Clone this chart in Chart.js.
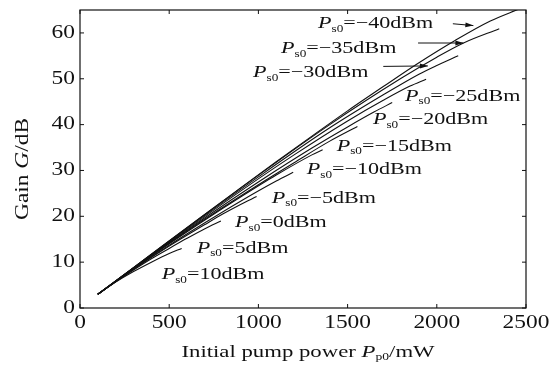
<!DOCTYPE html>
<html>
<head>
<meta charset="utf-8">
<script src="https://cdn.jsdelivr.net/npm/chart.js@4.4.1/dist/chart.umd.min.js"></script>
<style>
  html, body { margin: 0; padding: 0; background: #fff; }
  #gainChart { display: block; }
</style>
</head>
<body>
<canvas id="gainChart" width="555" height="365"></canvas>
<script>
// Signal powers of the curves (dBm)
const ps0Values = [10, 5, 0, -5, -10, -15, -20, -25, -30, -35, -40];

// Curves: initial pump power (mW) -> gain (dB)
const pump10 = [100, 200, 300, 400, 500, 570];
const gain10 = [3.0, 5.65, 7.95, 10.0, 11.9, 13.0];
const pump5 = [100, 200, 300, 400, 500, 600, 700, 790];
const gain5 = [3.0, 5.75, 8.3, 10.75, 13.0, 15.2, 17.3, 19.0];
const pump0 = [100, 300, 500, 700, 800, 900, 990];
const gain0 = [3.0, 8.45, 13.5, 18.2, 20.5, 22.6, 24.3];
const pumpM5 = [100, 300, 500, 700, 900, 1100, 1195];
const gainM5 = [3.0, 8.5, 13.7, 18.6, 23.3, 27.7, 29.6];
const pumpM10 = [100, 300, 500, 700, 900, 1100, 1300, 1360];
const gainM10 = [3.0, 8.6, 14.0, 19.2, 24.2, 29.0, 33.4, 34.5];
const pumpM15 = [100, 400, 700, 1000, 1200, 1400, 1555];
const gainM15 = [3.0, 11.4, 19.4, 26.9, 31.7, 36.4, 39.6];
const pumpM20 = [100, 400, 700, 1000, 1300, 1500, 1650, 1750];
const gainM20 = [3.0, 11.5, 19.7, 27.5, 34.9, 39.5, 42.8, 44.8];
const pumpM25 = [100, 500, 900, 1200, 1500, 1700, 1850, 1940];
const gainM25 = [3.0, 14.4, 25.5, 33.4, 40.8, 45.3, 48.4, 49.9];
const pumpM30 = [100, 600, 1000, 1400, 1700, 1900, 2000, 2120];
const gainM30 = [3.0, 17.4, 28.6, 39.3, 46.5, 51.0, 52.9, 55.0];
const pumpM35 = [100, 800, 1400, 1800, 2000, 2150, 2350];
const gainM35 = [3.0, 23.3, 40.0, 50.1, 54.7, 57.8, 60.9];
const pumpM40 = [100, 300, 500, 700, 900, 1100, 1300, 1500, 1700, 1900, 2100, 2300, 2460];
const gainM40 = [3.0, 8.8, 14.6, 20.4, 26.2, 31.9, 37.5, 43.0, 48.3, 53.5, 58.3, 62.6, 65.2];

// Axis ticks
const xTickValues = [0, 500, 1000, 1500, 2000, 2500];
const yTickValues = [0, 10, 20, 30, 40, 50, 60];

// Curve label anchors (left edge of "P", data units)
const labelX = [458, 654, 869, 1075, 1271, 1439, 1642, 1822, 970, 1127, 1334];
const labelY = [7.2, 13.0, 18.6, 23.9, 30.1, 35.2, 41.0, 46.1, 51.3, 56.5, 62.0];

// Arrows from the top three labels to their curves
const arrowFromX = [1700, 1895, 2090];
const arrowFromY = [52.7, 57.8, 62.0];
const arrowToX = [1950, 2149, 2205];
const arrowToY = [52.8, 57.8, 61.6];

const pumpSets = [pump10, pump5, pump0, pumpM5, pumpM10, pumpM15, pumpM20, pumpM25, pumpM30, pumpM35, pumpM40];
const gainSets = [gain10, gain5, gain0, gainM5, gainM10, gainM15, gainM20, gainM25, gainM30, gainM35, gainM40];

const INK = '#111';
const SERIF = '"Liberation Serif", "Times New Roman", serif';
const STRETCH = 1.3;

// draw text runs (italic / subscript) stretched horizontally like the scan
function drawRuns(ctx, runs, x, y, size, align) {
    const parts = runs.map(r => {
        const fs = r.sub ? size * 0.6 : size;
        const font = (r.italic ? 'italic ' : '') + fs + 'px ' + SERIF;
        ctx.font = font;
        return { text: r.text, font: font, w: ctx.measureText(r.text).width, dy: r.sub ? size * 0.3 : 0 };
    });
    const total = parts.reduce((s, p) => s + p.w, 0);
    let start = 0;
    if (align === 'center') start = -total / 2;
    if (align === 'right') start = -total;
    ctx.save();
    ctx.translate(x, y);
    ctx.scale(STRETCH, 1);
    ctx.fillStyle = INK;
    ctx.textBaseline = 'middle';
    ctx.textAlign = 'left';
    let cx = start;
    parts.forEach(p => {
        ctx.font = p.font;
        ctx.fillText(p.text, cx, p.dy);
        cx += p.w;
    });
    ctx.restore();
}

function labelRuns(v) {
    const val = v < 0 ? '\u2212' + Math.abs(v) : String(v);
    return [
        { text: 'P', italic: true },
        { text: 's0', sub: true },
        { text: '=' + val + 'dBm' }
    ];
}

const framePlugin = {
    id: 'frame',
    afterDatasetsDraw(chart) {
        const ctx = chart.ctx;
        const area = chart.chartArea;
        const xs = chart.scales.x;
        const ys = chart.scales.y;

        // box
        ctx.save();
        ctx.strokeStyle = INK;
        ctx.lineWidth = 1.2;
        ctx.strokeRect(area.left, area.top, area.right - area.left, area.bottom - area.top);

        // inward ticks on all sides
        ctx.lineWidth = 1;
        ctx.beginPath();
        xs.ticks.forEach(t => {
            const px = xs.getPixelForValue(t.value);
            ctx.moveTo(px, area.bottom); ctx.lineTo(px, area.bottom - 4);
            ctx.moveTo(px, area.top); ctx.lineTo(px, area.top + 4);
        });
        ys.ticks.forEach(t => {
            const py = ys.getPixelForValue(t.value);
            ctx.moveTo(area.left, py); ctx.lineTo(area.left + 4, py);
            ctx.moveTo(area.right, py); ctx.lineTo(area.right - 4, py);
        });
        ctx.stroke();
        ctx.restore();

        // tick labels
        xs.ticks.forEach(t => {
            drawRuns(ctx, [{ text: String(t.value) }], xs.getPixelForValue(t.value), area.bottom + 15, 18, 'center');
        });
        ys.ticks.forEach(t => {
            drawRuns(ctx, [{ text: String(t.value) }], area.left - 5, ys.getPixelForValue(t.value), 18, 'right');
        });

        // axis titles
        drawRuns(ctx, [
            { text: 'Initial pump power ' },
            { text: 'P', italic: true },
            { text: 'p0', sub: true },
            { text: '/mW' }
        ], (area.left + area.right) / 2 + 5, 352, 17.5, 'center');

        ctx.save();
        ctx.translate(23, (area.top + area.bottom) / 2 + 10);
        ctx.rotate(-Math.PI / 2);
        drawRuns(ctx, [
            { text: 'Gain ' },
            { text: 'G', italic: true },
            { text: '/dB' }
        ], 0, 0, 18, 'center');
        ctx.restore();

        // curve labels
        ps0Values.forEach((v, i) => {
            drawRuns(ctx, labelRuns(v), xs.getPixelForValue(labelX[i]), ys.getPixelForValue(labelY[i]), 17, 'left');
        });

        // arrows
        ctx.save();
        ctx.strokeStyle = INK;
        ctx.fillStyle = INK;
        ctx.lineWidth = 1;
        arrowFromX.forEach((fx, i) => {
            const x1 = xs.getPixelForValue(fx), y1 = ys.getPixelForValue(arrowFromY[i]);
            const x2 = xs.getPixelForValue(arrowToX[i]), y2 = ys.getPixelForValue(arrowToY[i]);
            const ang = Math.atan2(y2 - y1, x2 - x1);
            ctx.beginPath();
            ctx.moveTo(x1, y1);
            ctx.lineTo(x2, y2);
            ctx.stroke();
            ctx.beginPath();
            ctx.moveTo(x2, y2);
            ctx.lineTo(x2 - 8 * Math.cos(ang) + 2.5 * Math.sin(ang), y2 - 8 * Math.sin(ang) - 2.5 * Math.cos(ang));
            ctx.lineTo(x2 - 8 * Math.cos(ang) - 2.5 * Math.sin(ang), y2 - 8 * Math.sin(ang) + 2.5 * Math.cos(ang));
            ctx.closePath();
            ctx.fill();
        });
        ctx.restore();
    }
};

const datasets = ps0Values.map((v, i) => ({
    label: 'Ps0=' + v + 'dBm',
    data: pumpSets[i].map((x, j) => ({ x: x, y: gainSets[i][j] })),
    borderColor: INK,
    borderWidth: 1.1,
    pointRadius: 0,
    fill: false,
    cubicInterpolationMode: 'monotone'
}));

new Chart(document.getElementById('gainChart').getContext('2d'), {
    type: 'line',
    data: { datasets: datasets },
    options: {
        responsive: false,
        animation: false,
        devicePixelRatio: 1,
        layout: { padding: { top: 10, right: 29, left: 0, bottom: 0 } },
        plugins: { legend: { display: false }, tooltip: { enabled: false } },
        scales: {
            x: {
                type: 'linear',
                min: 0,
                max: 2500,
                grid: { display: false },
                border: { display: false },
                ticks: { display: false },
                afterBuildTicks: s => { s.ticks = xTickValues.map(v => ({ value: v })); },
                afterFit: s => { s.height = 57; }
            },
            y: {
                type: 'linear',
                min: 0,
                max: 65,
                grid: { display: false },
                border: { display: false },
                ticks: { display: false },
                afterBuildTicks: s => { s.ticks = yTickValues.map(v => ({ value: v })); },
                afterFit: s => { s.width = 80; }
            }
        }
    },
    plugins: [framePlugin]
});
</script>
</body>
</html>
